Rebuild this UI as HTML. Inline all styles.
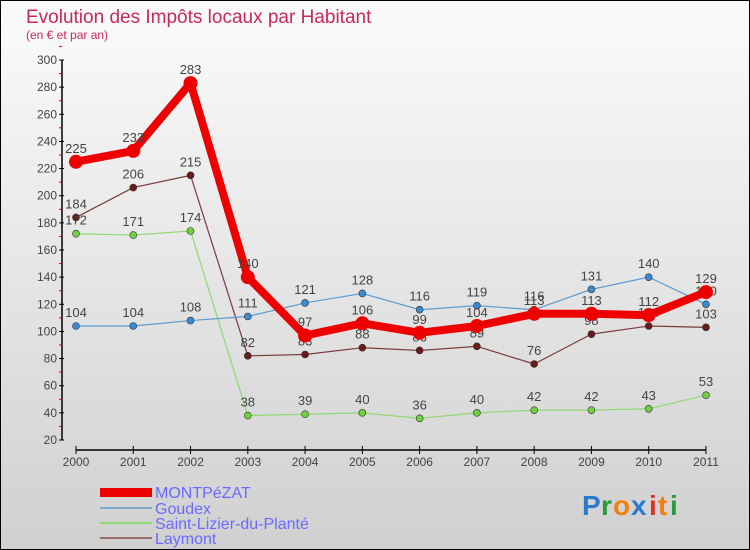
<!DOCTYPE html>
<html><head><meta charset="utf-8"><style>
body{margin:0;width:750px;height:550px;overflow:hidden;font-family:"Liberation Sans",sans-serif}
#c{position:absolute;left:0;top:0;width:748px;height:548px;border:1px solid #000;background:linear-gradient(#fbfbfb,#d0d0d0)}
</style></head><body>
<div id="c">
<svg id="s" width="750" height="550" style="position:absolute;left:-1px;top:-1px">
<text x="26" y="23" font-size="19" fill="#c8285a">Evolution des Impôts locaux par Habitant</text>
<text x="26" y="39" font-size="12" fill="#c8285a">(en € et par an)</text>
<g id="axes"></g><g id="series"></g>
<g font-size="16" fill="#6a6aff">
<rect x="100" y="488" width="52" height="9" fill="#e00"/>
<text x="155" y="498">MONTPéZAT</text>
<rect x="100" y="507" width="52" height="2" fill="#7fa8c8"/>
<text x="155" y="514">Goudex</text>
<rect x="100" y="522" width="52" height="2" fill="#90d870"/>
<text x="155" y="529">Saint-Lizier-du-Planté</text>
<rect x="100" y="537" width="52" height="2" fill="#9a6a6a"/>
<text x="155" y="544">Laymont</text>
</g>
<g font-size="28" font-weight="bold">
<text x="582" y="515" fill="#2a7ad0">P</text><text x="601" y="515" fill="#2a9a3a">r</text><text x="613" y="515" fill="#f08010">o</text><text x="631" y="515" fill="#2a7ad0">x</text><text x="649" y="515" fill="#e03020">i</text><text x="658" y="515" fill="#f08010">t</text><text x="670" y="515" fill="#2a9a3a">i</text>
</g>
</svg></div>
<script>
const years=["2000","2001","2002","2003","2004","2005","2006","2007","2008","2009","2010","2011"];
const montpezat=[225,233,283,140,97,106,99,104,113,113,112,129];
const goudex=[104,104,108,111,121,128,116,119,116,131,140,120];
const saintLizier=[172,171,174,38,39,40,36,40,42,42,43,53];
const laymont=[184,206,215,82,83,88,86,89,76,98,104,103];
const yTicks=[20,40,60,80,100,120,140,160,180,200,220,240,260,280,300];
const NS="http://www.w3.org/2000/svg";
const X=i=>76+i*57.27, Y=v=>440-(v-20)*380/280;
function mk(t,a,p){const e=document.createElementNS(NS,t);for(const k in a)e.setAttribute(k,a[k]);p.appendChild(e);return e;}
const ax=document.getElementById('axes'), sg=document.getElementById('series');
let e=mk('line',{x1:62,y1:60,x2:62,y2:440,stroke:'#000','stroke-width':1.5},ax);


e=mk('line',{x1:76,y1:450,x2:706,y2:450,stroke:'#000','stroke-width':1.5},ax);


yTicks.forEach(v=>{
 mk('line',{x1:59,y1:Y(v),x2:64,y2:Y(v),stroke:'#000'},ax);
 mk('line',{x1:59,y1:Y(v+10),x2:62,y2:Y(v+10),stroke:'#d00'},ax);
 const t=mk('text',{x:57,y:Y(v)+4,'text-anchor':'end','font-size':12,fill:'#444'},ax);t.textContent=v;
 
 
});
years.forEach((y,i)=>{
 mk('line',{x1:X(i),y1:446,x2:X(i),y2:454,stroke:'#000'},ax);
 const t=mk('text',{x:X(i),y:466,'text-anchor':'middle','font-size':12,fill:'#444'},ax);t.textContent=y;
 
 
});
function series(d,col,w,r,dot,name){
 const g=mk('g',{},sg);
 
 
 mk('polyline',{points:d.map((v,i)=>X(i)+','+Y(v)).join(' '),fill:'none',stroke:col,'stroke-width':w,'stroke-linejoin':'round'},g);
 d.forEach((v,i)=>{
  const c=mk('circle',{cx:X(i),cy:Y(v),r:r,fill:dot,stroke:'#333','stroke-width':r>5?0:0.6},g);
  
  
  const t=mk('text',{x:X(i),y:Y(v)-9,'text-anchor':'middle','font-size':13,fill:'#444'},g);t.textContent=v;
 });
}
series(laymont,'#7a3a3a',1.2,3.5,'#6a1a1a','series-laymont');
series(saintLizier,'#90d870',1.2,3.5,'#70d040','series-saint-lizier');
series(goudex,'#5a9ad0',1.2,3.5,'#3a8ad0','series-goudex');
series(montpezat,'#ee0000',8,7,'#ee0000','series-montpezat');
</script>
</body></html>
